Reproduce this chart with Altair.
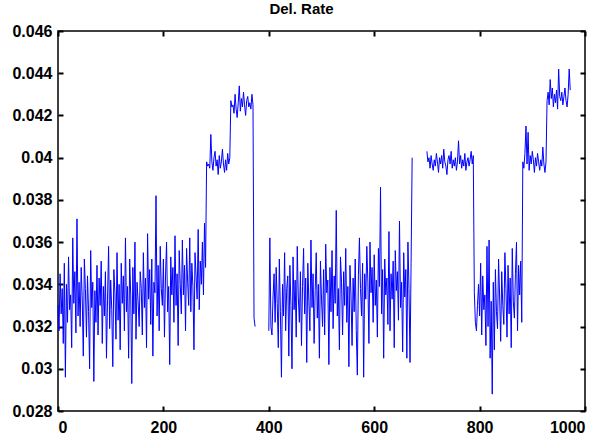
import altair as alt
import pandas as pd

# values in units of 1e-4, sampled every 2 steps along x
seg1_start = 0
seg1_vals = [
    330, 318, 345, 326, 338, 312, 350, 296, 340, 322, 353, 328, 335, 310, 362, 331, 346, 317, 371, 325, 341,
    320, 348, 333, 306, 352, 338, 315, 344, 327, 300, 356, 329, 341, 294, 337, 322, 349, 316, 343, 330,
    351, 312, 339, 325, 346, 305, 333, 358, 319, 342, 328, 301, 347, 336, 314, 355, 323, 340, 309, 350,
    331, 344, 318, 362, 327, 339, 305, 352, 335, 293, 348, 326, 360, 314, 341, 332, 320, 346, 338, 316,
    355, 329, 343, 310, 364, 333, 347, 321, 352, 306, 341, 336, 382, 325, 349, 318, 358, 338, 330, 352,
    315, 344, 360, 327, 339, 302, 353, 335, 348, 322, 363, 330, 345, 311, 356, 340, 326, 361, 335, 349,
    318, 357, 341, 330, 362, 327, 350, 339, 309, 355, 344, 333, 366, 328, 351, 340, 360, 335, 369, 348,
    398, 396, 397, 395, 411, 398, 394, 400, 403, 396, 399, 392, 401, 395, 398, 404, 397, 393, 399, 394,
    402, 397, 400,
    427, 424, 425, 421, 430, 423, 419, 426, 434, 422, 428, 424, 431, 425, 420, 427, 429, 424, 426, 423,
    430, 425,
    324, 320,
]

seg2_start = 400
seg2_vals = [
    318, 362, 320, 316, 334, 345, 322, 348, 331, 310, 352, 327, 296, 340, 325, 355, 318, 338, 344, 306, 349,
    330, 300, 353, 328, 342, 315, 358, 334, 322, 346, 311, 339, 357, 326, 343, 303, 350, 332, 318, 361,
    329, 345, 312, 337, 355, 324, 340, 305, 351, 333, 320, 347, 316, 359, 336, 342, 302, 348, 327, 356,
    319, 344, 331, 375, 325, 338, 309, 353, 341, 316, 346, 330, 357, 322, 339, 301, 349, 335, 311, 343,
    327, 352, 318, 297, 344, 362, 338, 325, 350, 296, 345, 333, 358, 341, 312, 360, 336, 348, 322, 354,
    330, 342, 315, 357, 339, 386, 326, 347, 305, 352, 335, 343, 321, 365, 318, 345, 333, 351, 310, 356,
    337, 346, 323, 370, 329, 341, 308, 355, 334, 347, 305, 360, 338, 303, 350, 400,
]

seg3_start = 700
seg3_vals = [
    403, 398, 400, 395, 401, 397, 394, 399, 396, 402, 398, 393, 400, 397, 401, 395, 404, 398, 396, 392,
    399, 401, 397, 403, 395, 399, 396, 400, 394, 398, 408, 397, 401, 395, 399, 396, 402, 394, 398, 400,
    396, 399, 403, 397, 401,
    336, 322, 318, 330, 340, 325, 350, 316, 344, 328, 335, 311, 358, 320, 361, 305, 332, 288, 341, 309,
    347, 327, 319, 352, 334, 313, 346, 330, 321, 355, 338, 315, 349, 326, 343, 310, 357, 332, 324, 345,
    360, 318, 349, 335, 351, 322,
    398, 395, 402, 415, 397, 412, 394, 401, 397, 403, 399, 393, 400, 396, 402, 398, 394, 399, 396, 405,
    397, 393, 398,
    427, 431, 425, 437, 428, 433, 424, 430, 426, 432, 423, 442, 429, 427, 431, 425, 429, 433, 427, 424,
    430, 442, 432,
]

x_ticks = [0, 200, 400, 600, 800, 1000]
y_ticks = [0.028, 0.030, 0.032, 0.034, 0.036, 0.038, 0.040, 0.042, 0.044, 0.046]

rows = []
for name, start, vals in [("a", seg1_start, seg1_vals), ("b", seg2_start, seg2_vals), ("c", seg3_start, seg3_vals)]:
    for i, v in enumerate(vals):
        rows.append({"x": start + 2 * i, "y": v / 10000.0, "seg": name})
df = pd.DataFrame(rows)

W, H = 527, 380
FONT = "Liberation Sans"
TK = 5
TW = 2
xs = alt.Scale(domain=[0, 1000], nice=False)
ys = alt.Scale(domain=[0.028, 0.046], nice=False, zero=False)

line = alt.Chart(df).mark_line(color="#0000ff", strokeWidth=1).encode(
    x=alt.X("x:Q", scale=xs, title=None,
            axis=alt.Axis(values=x_ticks, format="d", ticks=True, tickSize=TK, offset=-TK,
                          tickColor="#000000", tickWidth=TW, domain=False, gridOpacity=0,
                          labelFont=FONT, labelFontSize=16, labelFontWeight="bold",
                          labelColor="black", labelPadding=8)),
    y=alt.Y("y:Q", scale=ys, title=None,
            axis=alt.Axis(values=y_ticks, format=".3~f", ticks=True, tickSize=TK, offset=-TK,
                          tickColor="#000000", tickWidth=TW, domain=False, gridOpacity=0,
                          labelFont=FONT, labelFontSize=16, labelFontWeight="bold",
                          labelColor="black", labelPadding=6)),
    detail="seg:N",
)

frame = alt.Chart(df).mark_line(opacity=0).encode(
    x=alt.X("x:Q", scale=xs, title=None,
            axis=alt.Axis(values=x_ticks, orient="top", labels=False, ticks=True, tickSize=TK, offset=-TK,
                          tickColor="#000000", tickWidth=TW, domain=False, gridOpacity=0)),
    y=alt.Y("y:Q", scale=ys, title=None,
            axis=alt.Axis(values=y_ticks, orient="right", labels=False, ticks=True, tickSize=TK, offset=-TK,
                          tickColor="#000000", tickWidth=TW, domain=False, gridOpacity=0)),
    detail="seg:N",
)

chart = alt.layer(line, frame).resolve_axis(x="independent", y="independent").properties(
    width=W, height=H,
    title=alt.TitleParams("Del. Rate", font=FONT, fontSize=15, fontWeight="bold", color="black",
                          offset=6, frame="group", anchor="middle", dx=-20),
    autosize=alt.AutoSizeParams(type="none"),
    padding={"left": 58, "top": 31, "right": 23, "bottom": 32},
).configure_view(stroke="#000000", strokeWidth=1.5)

chart.save("out.html", embed_options={"renderer": "svg", "actions": False})
